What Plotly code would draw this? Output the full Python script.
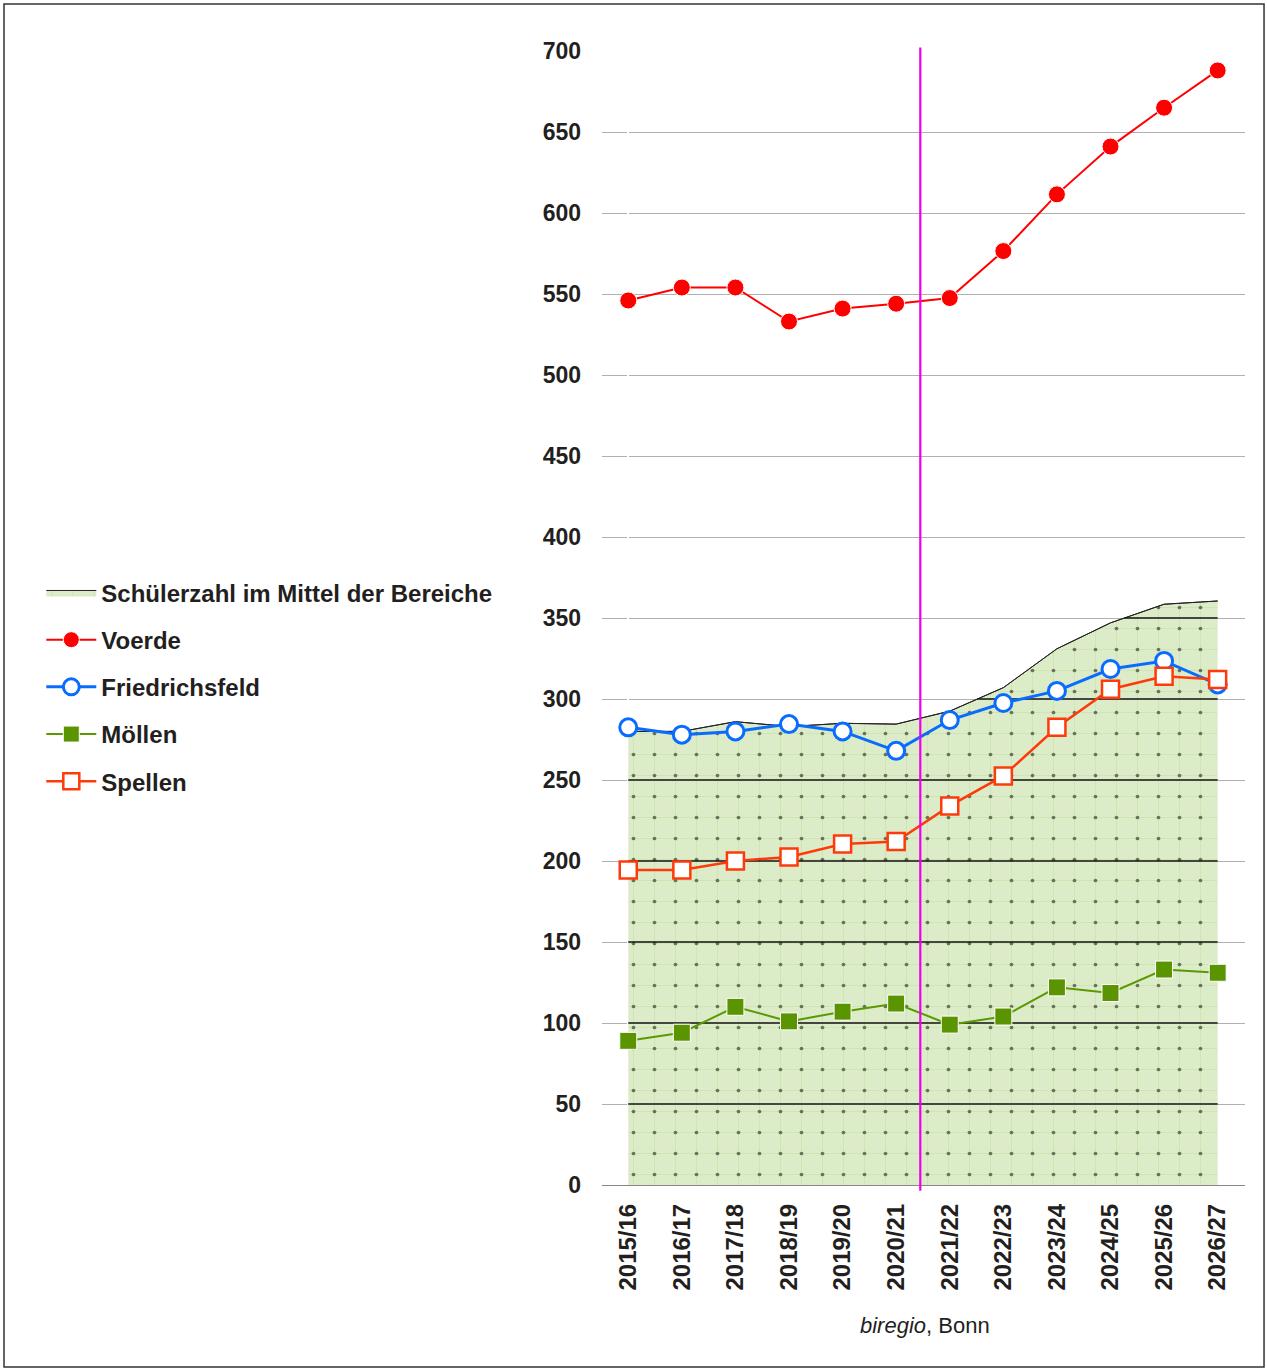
import plotly.graph_objects as go

# Schuljahre
jahre = ["2015/16", "2016/17", "2017/18", "2018/19", "2019/20", "2020/21",
         "2021/22", "2022/23", "2023/24", "2024/25", "2025/26", "2026/27"]

# Schülerzahlen je Bereich
mittel = [280, 280, 286, 283, 285, 284.5, 292.5, 307, 331, 347, 358.5, 360.5]
voerde = [546, 554, 554, 533, 541, 544, 547.5, 576.5, 611.5, 641, 665, 688]
friedrichsfeld = [282.5, 278, 280, 284.5, 280, 268, 287, 297.5, 305, 318.5, 323.5, 309]
moellen = [89, 94, 110, 101, 107, 112, 99, 104, 122, 118.5, 133, 131]
spellen = [194.5, 194.5, 200, 202.5, 210.5, 212, 234, 252.5, 282.5, 306, 314, 312]

y_ticks = [0, 50, 100, 150, 200, 250, 300, 350, 400, 450, 500, 550, 600, 650, 700]

schrift = "Liberation Sans, Arial, sans-serif"
textfarbe = "#231f20"
pos = list(range(len(jahre)))


def start_ueber(werte, stufe):
    # ab welcher Position liegt die Fläche dauerhaft über der Stufe
    if werte[0] >= stufe:
        return 0
    for i in range(len(werte) - 1, 0, -1):
        if werte[i - 1] < stufe <= werte[i]:
            return i - 1 + (stufe - werte[i - 1]) / (werte[i] - werte[i - 1])
    return None


fig = go.Figure()

# Fläche mit hellgrünem Raster (Legendeneintrag)
fig.add_trace(go.Scatter(
    x=pos, y=mittel, mode="lines", fill="tozeroy",
    name="Schülerzahl im Mittel der Bereiche",
    line=dict(color="#222222", width=1),
    fillcolor="#dcebc8",
    fillpattern=dict(shape="+", fgcolor="#bddb92", bgcolor="#dcebc8",
                     size=21, solidity=0.08),
    legendgroup="a", hoverinfo="skip"))

# Punktraster obendrauf
fig.add_trace(go.Scatter(
    x=pos, y=mittel, mode="lines", fill="tozeroy",
    line=dict(color="#222222", width=1),
    fillcolor="rgba(0,0,0,0)",
    fillpattern=dict(shape=".", fgcolor="#000000", bgcolor="rgba(0,0,0,0)",
                     size=21, solidity=0.025),
    showlegend=False, hoverinfo="skip"))

# dunkle Rasterlinien innerhalb der Fläche (über der Füllung, unter den Linien)
gx, gy = [], []
for yy in y_ticks[1:]:
    x0 = start_ueber(mittel, yy)
    if x0 is None:
        continue
    gx += [x0, len(jahre) - 1, None]
    gy += [yy, yy, None]
fig.add_trace(go.Scatter(x=gx, y=gy, mode="lines", showlegend=False,
                         line=dict(color="#111111", width=1.5), hoverinfo="skip"))

fig.add_trace(go.Scatter(
    x=pos, y=voerde, mode="lines+markers", name="Voerde",
    line=dict(color="#ff0000", width=2),
    marker=dict(symbol="circle", size=17, color="#ff0000",
                line=dict(color="white", width=1)),
    legendgroup="b"))

fig.add_trace(go.Scatter(
    x=pos, y=friedrichsfeld, mode="lines+markers", name="Friedrichsfeld",
    line=dict(color="#0a6cff", width=3),
    marker=dict(symbol="circle", size=17, color="white",
                line=dict(color="#0a6cff", width=3)),
    legendgroup="c"))

fig.add_trace(go.Scatter(
    x=pos, y=moellen, mode="lines+markers", name="Möllen",
    line=dict(color="#5a9a00", width=2),
    marker=dict(symbol="square", size=17, color="#5a9400",
                line=dict(color="white", width=1)),
    legendgroup="d"))

fig.add_trace(go.Scatter(
    x=pos, y=spellen, mode="lines+markers", name="Spellen",
    line=dict(color="#ff3a0a", width=2.5),
    marker=dict(symbol="square", size=17, color="white",
                line=dict(color="#ff3a0a", width=2.5)),
    legendgroup="e"))

# Trennlinie Ist / Prognose
fig.add_shape(type="line", xref="x", yref="paper", x0=5.45, x1=5.45,
              y0=-0.005, y1=1.003, line=dict(color="#ee00ee", width=2.2))

# Rahmen um die ganze Grafik
fig.add_shape(type="rect", xref="paper", yref="paper",
              x0=-0.930, x1=1.0296, y0=-0.1605, y1=1.0414,
              line=dict(color="#333333", width=1.5))

fig.add_annotation(text="<i>biregio</i>, Bonn", xref="paper", yref="paper",
                   x=0.502, y=-0.124, xanchor="center", yanchor="middle",
                   showarrow=False,
                   font=dict(family=schrift, size=22, color=textfarbe))

fig.update_layout(
    width=1267, height=1372,
    margin=dict(l=602, r=22, t=51, b=187),
    plot_bgcolor="white", paper_bgcolor="white",
    font=dict(family=schrift, color=textfarbe),
    showlegend=True,
    legend=dict(x=-0.872, y=0.542, xanchor="left", yanchor="top",
                font=dict(size=24, family=schrift, color=textfarbe, weight="bold"),
                tracegroupgap=13, itemwidth=50, bgcolor="rgba(0,0,0,0)"),
    xaxis=dict(range=[-0.49, 11.51], tickangle=-90, showgrid=False,
               tickmode="array", tickvals=pos, ticktext=jahre,
               ticks="", ticklabelstandoff=13,
               tickfont=dict(size=24, weight="bold")),
    yaxis=dict(range=[0, 700], tickvals=y_ticks, showgrid=True,
               gridcolor="#b0b0b0", gridwidth=1, zeroline=True,
               zerolinecolor="#888888", zerolinewidth=1, ticks="",
               ticklabelstandoff=20,
               tickfont=dict(size=23, weight="bold")),
)

fig.write_html("out.html", config={"displayModeBar": False},
               post_script="document.body.style.margin='0px';")
